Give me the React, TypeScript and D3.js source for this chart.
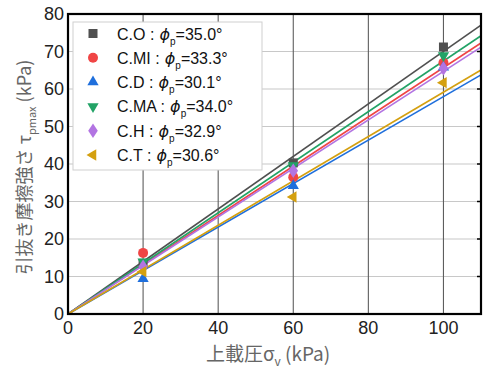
import React from "react";
import * as d3 from "d3";

// Series: name, friction angle (deg), measured peak pull-out friction at each normal stress
const seriesNames = ["C.O", "C.MI", "C.D", "C.MA", "C.H", "C.T"];
const phiDeg = [35.0, 33.3, 30.1, 34.0, 32.9, 30.6];
const sigmaV = [20, 60, 100];
const tauCO = [13.5, 40.3, 71.2];
const tauCMI = [16.3, 36.5, 67.0];
const tauCD = [9.4, 34.2, 65.8];
const tauCMA = [13.9, 39.6, 68.9];
const tauCH = [12.6, 38.2, 65.5];
const tauCT = [11.3, 31.2, 61.7];
const seriesValues = [tauCO, tauCMI, tauCD, tauCMA, tauCH, tauCT];
const xTicks = [0, 20, 40, 60, 80, 100];
const yTicks = [0, 10, 20, 30, 40, 50, 60, 70, 80];

const colors = ["#505050", "#f04545", "#1f6fdc", "#22a366", "#b274e2", "#d4a010"];
const shapes = ["square", "circle", "up", "down", "diamond", "left"];

const W = 496;
const H = 369;
const x = d3.scaleLinear().domain([0, 110]).range([68, 481]);
const y = d3.scaleLinear().domain([0, 80]).range([314, 14]);

function marker(shape: string, cx: number, cy: number, color: string, key: string) {
  if (shape === "square") {
    return <rect key={key} x={cx - 4.5} y={cy - 4.5} width={9} height={9} fill={color} />;
  }
  if (shape === "circle") {
    return <circle key={key} cx={cx} cy={cy} r={5} fill={color} />;
  }
  if (shape === "diamond") {
    const p = d3.symbol().type(d3.symbolDiamond).size(60)() as string;
    return <path key={key} d={p} transform={`translate(${cx},${cy}) scale(1.15,1)`} fill={color} />;
  }
  const tri = d3.symbol().type(d3.symbolTriangle).size(55)() as string;
  const rot = shape === "up" ? 0 : shape === "down" ? 180 : -90;
  return <path key={key} d={tri} transform={`translate(${cx},${cy}) rotate(${rot})`} fill={color} />;
}

export default function App() {
  const font = "'Liberation Sans', Arial, sans-serif";
  const jpFont = "'Noto Sans CJK JP', 'Liberation Sans', sans-serif";
  const [x0, x1] = x.range();
  const [y0, y1] = y.range();
  const xMax = x.domain()[1];

  return (
    <svg width={W} height={H} style={{ position: "absolute", left: 0, top: 0 }}>
      <rect width={W} height={H} fill="#fff" />
      {/* grid */}
      {yTicks.slice(1, -1).map((t) => (
        <line key={"gy" + t} x1={x0} x2={x1} y1={y(t)} y2={y(t)} stroke="#c8c8c8" strokeWidth={1.2} />
      ))}
      {xTicks.slice(1).map((t) => (
        <line key={"gx" + t} x1={x(t)} x2={x(t)} y1={y0} y2={y1} stroke="#5e5e5e" strokeWidth={1.1} />
      ))}
      {/* right-side minor ticks */}
      {yTicks.slice(1, -1).map((t) => (
        <line key={"rt" + t} x1={x1 - 4} x2={x1} y1={y(t)} y2={y(t)} stroke="#000" strokeWidth={1.5} />
      ))}
      {/* fit lines through origin, slope = tan(phi) */}
      {phiDeg.map((phi, i) => {
        const k = Math.tan((phi * Math.PI) / 180);
        return (
          <line
            key={"fl" + i}
            x1={x(0)}
            y1={y(0)}
            x2={x(xMax)}
            y2={y(k * xMax)}
            stroke={colors[i]}
            strokeWidth={1.6}
          />
        );
      })}
      {/* measured points */}
      {seriesValues.map((vals, i) =>
        vals.map((v, j) => marker(shapes[i], x(sigmaV[j]), y(v), colors[i], `m${i}-${j}`))
      )}
      {/* frame */}
      <rect x={x0} y={y1} width={x1 - x0} height={y0 - y1} fill="none" stroke="#000" strokeWidth={2.2} />
      {/* tick labels */}
      {xTicks.map((t) => (
        <text key={"xl" + t} x={x(t)} y={y0 + 20} fontSize={18} fontFamily={font} textAnchor="middle" fill="#222">
          {t}
        </text>
      ))}
      {yTicks.map((t) => (
        <text key={"yl" + t} x={x0 - 4} y={y(t) + 6} fontSize={18} fontFamily={font} textAnchor="end" fill="#222">
          {t}
        </text>
      ))}
      {/* axis titles */}
      <text x={268} y={361} fontSize={19} fontFamily={jpFont} textAnchor="middle" fill="#666">
        上載圧σ
        <tspan fontSize={12} dy={5}>v</tspan>
        <tspan dy={-5}> (kPa)</tspan>
      </text>
      <text
        transform="translate(31,167) rotate(-90)"
        fontSize={18}
        fontFamily={jpFont}
        textAnchor="middle"
        fill="#666"
      >
        引抜き摩擦強さ τ
        <tspan fontSize={11} dy={5}>pmax</tspan>
        <tspan dy={-5}> (kPa)</tspan>
      </text>
      {/* legend */}
      <rect x={73} y={22} width={189} height={148} fill="#fff" stroke="#cfcfcf" strokeWidth={1} />
      {seriesNames.map((name, i) => {
        const ry = 33.5 + i * 24.3;
        return (
          <g key={"lg" + i}>
            {marker(shapes[i], 93, ry, colors[i], "lm" + i)}
            <text x={117} y={ry + 6} fontSize={16} fontFamily={font} fill="#111">
              {name} :
              <tspan fontStyle="italic" fontFamily="'DejaVu Sans', sans-serif"> ϕ</tspan>
              <tspan fontSize={10} dy={5}>p</tspan>
              <tspan dy={-5}>={phiDeg[i].toFixed(1)}°</tspan>
            </text>
          </g>
        );
      })}
    </svg>
  );
}
